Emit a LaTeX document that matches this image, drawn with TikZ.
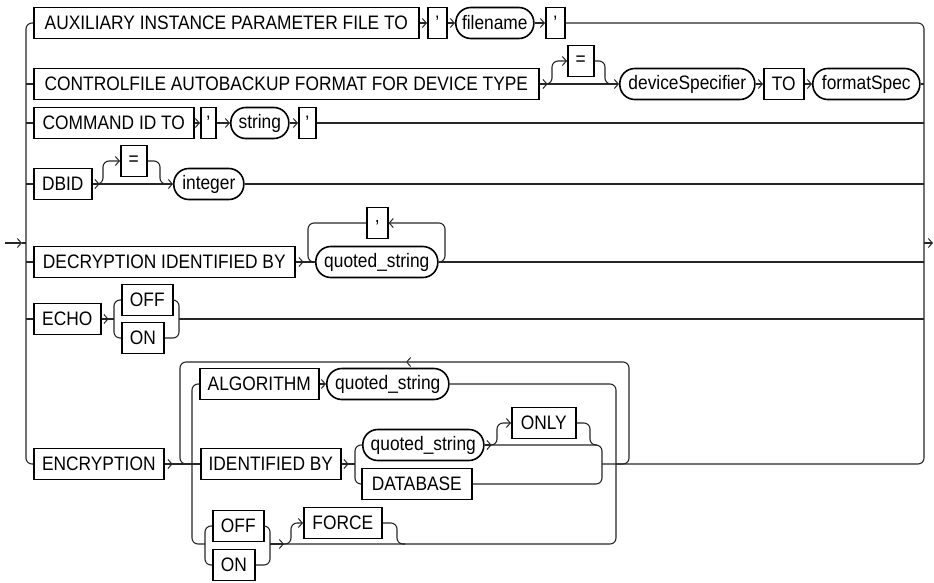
\documentclass[tikz,border=0pt]{standalone}
\usepackage{fontspec}
\setmainfont[FakeStretch=0.89]{Liberation Sans}
\usetikzlibrary{arrows.meta}
\begin{document}
\begin{tikzpicture}[x=1pt,y=-1pt,
  font=\fontsize{19.5}{22}\selectfont,
  ln/.style={line width=1.1pt, draw=black!85, rounded corners=6pt},
  arr/.style={ln, -{Straight Barb[length=4pt,width=9pt,line width=1pt]}},
  kw/.style={draw, line width=1.6pt, minimum height=31pt, inner sep=0pt, anchor=west},
  nt/.style={kw, rounded corners=15pt}]
\useasboundingbox (0,0) rectangle (934,582);
% spine coordinates
\coordinate (lt) at (26,23);
\coordinate (lb) at (26,464);
\coordinate (rt) at (924,23);
\coordinate (rb) at (924,464);
\coordinate (in) at (5,243);
\coordinate (inL) at (26,243);
\coordinate (outR) at (924,243);
\coordinate (out) at (933,243);

% Row 1
\node[kw,minimum width=385] (aux) at (33,23) {AUXILIARY INSTANCE PARAMETER FILE TO};
\node[kw,minimum width=19] (q1) at (427,23) {'};
\node[nt,minimum width=78] (fname) at (455,23) {filename};
\node[kw,minimum width=19] (q2) at (545,23) {'};
% Row 2
\node[kw,minimum width=505] (cf) at (33,84) {CONTROLFILE AUTOBACKUP FORMAT FOR DEVICE TYPE};
\node[kw,minimum width=26] (eq1) at (567,61) {=};
\node[nt,minimum width=135] (dev) at (619,84) {deviceSpecifier};
\node[kw,minimum width=40] (to) at (763,84) {TO};
\node[nt,minimum width=107] (fmt) at (812,84) {formatSpec};
% Row 3
\node[kw,minimum width=160] (cmd) at (33,123) {COMMAND ID TO};
\node[kw,minimum width=15] (q3) at (200,123) {'};
\node[nt,minimum width=58] (str) at (230,123) {string};
\node[kw,minimum width=17] (q4) at (298,123) {'};
% Row 4
\node[kw,minimum width=58] (dbid) at (33,184) {DBID};
\node[kw,minimum width=26] (eq2) at (120,161) {=};
\node[nt,minimum width=70] (int) at (173,184) {integer};
% Row 5
\node[kw,minimum width=261] (decr) at (33,262) {DECRYPTION IDENTIFIED BY};
\node[kw,minimum width=21] (comma) at (366,223) {,};
\node[nt,minimum width=122] (qs1) at (315,262) {quoted\_string};
% Row 6
\node[kw,minimum width=67] (echo) at (33,319) {ECHO};
\node[kw,minimum width=51] (off1) at (121,300) {OFF};
\node[kw,minimum width=42] (on1) at (121,338) {ON};
% Row 7
\node[kw,minimum width=130] (encr) at (33,464) {ENCRYPTION};
\node[kw,minimum width=119] (alg) at (199,384) {ALGORITHM};
\node[nt,minimum width=122] (qs2) at (326,384) {quoted\_string};
\node[kw,minimum width=140] (idby) at (200,464) {IDENTIFIED BY};
\node[nt,minimum width=121] (qs3) at (362,445) {quoted\_string};
\node[kw,minimum width=64] (only) at (511,423) {ONLY};
\node[kw,minimum width=110] (db) at (361,484) {DATABASE};
\node[kw,minimum width=51] (off2) at (212,526) {OFF};
\node[kw,minimum width=42] (on2) at (212,565) {ON};
\node[kw,minimum width=78] (force) at (303,523) {FORCE};

% entry / exit
\draw[arr] (in) -- (22,243);
\draw[ln] (22,243) -- (inL);
\draw[arr] (outR) -- (out);

% spines
\draw[ln] (aux.west) -- (lt) -- (lb) -- (encr.west);
\draw[ln] (q2.east) -- (rt) -- (rb) -- (602,464);
\draw[ln] (lt |- cf) -- (cf.west);
\draw[ln] (lt |- cmd) -- (cmd.west);
\draw[ln] (lt |- dbid) -- (dbid.west);
\draw[ln] (lt |- decr) -- (decr.west);
\draw[ln] (lt |- echo) -- (echo.west);

% Row 1
\draw[arr] (aux.east) -- (q1.west);
\draw[arr] (q1.east) -- (fname.west);
\draw[arr] (fname.east) -- (q2.west);
% Row 2
\draw[arr] (cf.east) -- +(8,0);
\draw[arr] (cf.east) -- (dev.west);
\draw[arr] (cf.east) -- (552,84) -- (552,61) -- (eq1.west);
\draw[ln] (eq1.east) -- (605,61) -- (605,84) -- (612,84);
\draw[arr] (dev.east) -- (to.west);
\draw[arr] (to.east) -- (fmt.west);
\draw[ln] (fmt.east) -- (fmt.east -| rt);
% Row 3
\draw[arr] (cmd.east) -- (q3.west);
\draw[arr] (q3.east) -- (str.west);
\draw[arr] (str.east) -- (q4.west);
\draw[ln] (q4.east) -- (q4.east -| rt);
% Row 4
\draw[arr] (dbid.east) -- +(7,0);
\draw[arr] (dbid.east) -- (int.west);
\draw[arr] (dbid.east) -- (103,184) -- (103,161) -- (eq2.west);
\draw[ln] (eq2.east) -- (160,161) -- (160,184) -- (166,184);
\draw[ln] (int.east) -- (int.east -| rt);
% Row 5
\draw[arr] (decr.east) -- +(8,0);
\draw[ln] (decr.east) -- (qs1.west);
\draw[arr] (qs1.east) -- (445,262) -- (445,223) -- (comma.east);
\draw[ln] (comma.west) -- (308,223) -- (308,262) -- (qs1.west);
\draw[ln] (qs1.east) -- (qs1.east -| rt);
% Row 6
\draw[arr] (echo.east) -- +(7,0);
\draw[ln] (echo.east) -- (114,319);
\draw[ln] (off1.west) -- (114,300) -- (114,338) -- (on1.west);
\draw[ln] (off1.east) -- (179,300) -- (179,338) -- (on1.east);
\draw[ln] (179,319) -- (echo.east -| rt);
% Row 7
\draw[arr] (encr.east) -- +(8,0);
\draw[ln] (encr.east) -- (idby.west);
\draw[arr] (616,464) -- (629,464) -- (629,362) -- (406,362);
\draw[ln] (406,362) -- (180,362) -- (180,464) -- (192,464);
\draw[ln] (alg.west) -- (192,384) -- (192,544) -- (205,544);
\draw[arr] (alg.east) -- (qs2.west);
\draw[ln] (270,544) -- (616,544) -- (616,384) -- (qs2.east);
\draw[arr] (idby.east) -- +(7,0);
\draw[ln] (idby.east) -- (355,464);
\draw[ln] (qs3.west) -- (355,445) -- (355,484) -- (db.west);
\draw[ln] (qs3.east) -- (602,445) -- (602,484) -- (db.east);
\draw[arr] (qs3.east) -- +(7,0);
\draw[arr] (qs3.east) -- (497,445) -- (497,423) -- (only.west);
\draw[ln] (only.east) -- (590,423) -- (590,445) -- (597,445);
\draw[ln] (off2.west) -- (205,526) -- (205,565) -- (on2.west);
\draw[ln] (off2.east) -- (270,526) -- (270,565) -- (on2.east);
\draw[arr] (270,544) -- (284,544);
\draw[arr] (280,544) -- (291,544) -- (291,523) -- (force.west);
\draw[ln] (force.east) -- (397,523) -- (397,544) -- (405,544);
\end{tikzpicture}
\end{document}
